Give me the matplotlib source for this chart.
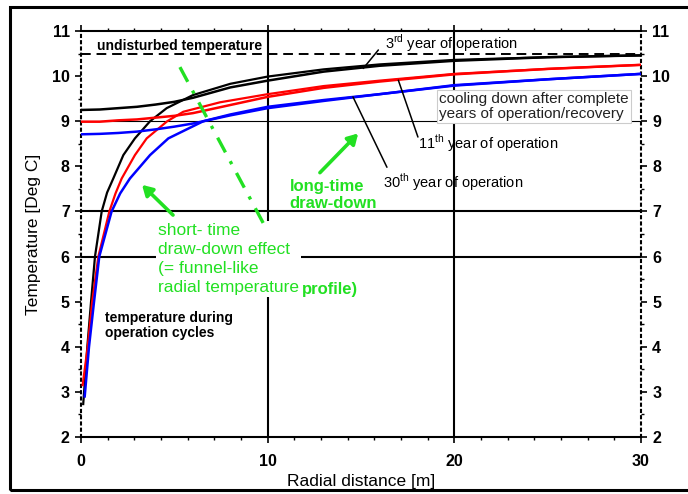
import numpy as np
import matplotlib
matplotlib.use('Agg')
import matplotlib.pyplot as plt
from matplotlib.ticker import AutoMinorLocator
from matplotlib.patches import Rectangle

plt.rcParams['font.family'] = ['Liberation Sans', 'DejaVu Sans']
plt.rcParams['mathtext.fontset'] = 'custom'
plt.rcParams['mathtext.rm'] = 'Liberation Sans'

# temperature during operation cycles (steep profiles near the borehole)
r_op_3 = [0.12, 0.22, 0.34, 0.54, 0.75, 1.11, 1.4, 1.73, 2.27, 2.89, 3.7, 4.59, 6.0, 8.0, 10, 13, 16, 20, 25, 30]
t_op_3 = [2.73, 3.3, 4.0, 5.0, 6.0, 7.0, 7.42, 7.73, 8.25, 8.62, 9.0, 9.29, 9.58, 9.83, 9.99, 10.15, 10.26, 10.36, 10.42, 10.46]
r_op_11 = [0.09, 0.2, 0.36, 0.6, 0.93, 1.52, 1.85, 2.18, 2.89, 3.52, 4.62, 5.48, 7.45, 10, 13, 16, 20, 25, 30]
t_op_11 = [3.15, 3.5, 4.0, 5.0, 6.0, 7.0, 7.4, 7.73, 8.25, 8.62, 9.0, 9.21, 9.42, 9.6, 9.78, 9.9, 10.05, 10.16, 10.25]
r_op_30 = [0.2, 0.43, 0.7, 0.98, 1.64, 2.1, 2.62, 3.7, 4.68, 6.55, 8, 10, 13, 16, 20, 25, 30]
t_op_30 = [2.9, 4.0, 5.0, 6.0, 7.0, 7.4, 7.73, 8.25, 8.62, 9.0, 9.15, 9.32, 9.47, 9.6, 9.8, 9.93, 10.05]

# cooling down after complete years of operation / recovery
r_rec = [0, 1, 2, 3, 4, 5, 6, 8, 10, 13, 16, 20, 25, 30]
t_rec_3 = [9.25, 9.26, 9.29, 9.32, 9.37, 9.43, 9.52, 9.75, 9.9, 10.1, 10.23, 10.34, 10.42, 10.46]
t_rec_11 = [8.99, 8.99, 9.02, 9.04, 9.08, 9.12, 9.18, 9.36, 9.54, 9.74, 9.88, 10.04, 10.16, 10.25]
t_rec_30 = [8.71, 8.72, 8.74, 8.77, 8.82, 8.88, 8.95, 9.13, 9.29, 9.45, 9.6, 9.79, 9.93, 10.05]

t_undisturbed = 10.5
y_ticks = [2, 3, 4, 5, 6, 7, 8, 9, 10, 11]
x_ticks = [0, 10, 20, 30]

green = '#22e022'

fig = plt.figure(figsize=(6.88, 4.94), dpi=100)
ax = fig.add_axes([0.1177, 0.1154, 0.8140, 0.8218])

# frame around the whole figure
fig.patches.append(Rectangle((0.0145, 0.008), 1.1, 0.978, transform=fig.transFigure,
                             fill=False, edgecolor='k', lw=2.2))

# grid lines
for yv in [6, 7]:
    ax.axhline(yv, color='k', lw=1.5, zorder=0.5)
ax.axhline(9, color='k', lw=0.8, zorder=0.5)
for xv in [10, 20]:
    ax.axvline(xv, color='k', lw=1.5, zorder=0.5)
ax.axhline(t_undisturbed, color='k', lw=1.4, ls=(0, (5, 3)), zorder=1)

# curves
ax.plot(r_op_3, t_op_3, color='k', lw=1.6, zorder=3)
ax.plot(r_op_11, t_op_11, color='#ff0000', lw=1.6, zorder=3)
ax.plot(r_op_30, t_op_30, color='#0000ff', lw=1.8, zorder=3)
ax.plot(r_rec, t_rec_3, color='k', lw=1.8, zorder=3)
ax.plot(r_rec, t_rec_11, color='#ff0000', lw=1.8, zorder=3)
ax.plot(r_rec, t_rec_30, color='#0000ff', lw=1.8, zorder=3)

ax.set_xlim(0, 30)
ax.set_ylim(2, 11)
ax.xaxis.set_minor_locator(AutoMinorLocator(7))
ax.yaxis.set_minor_locator(AutoMinorLocator(2))
ax.set_xticks(x_ticks)
ax.set_yticks(y_ticks)

ax.tick_params(axis='y', which='both', direction='out', left=True, right=True,
               labelleft=True, labelright=True, labelsize=11.5, pad=4)
ax.tick_params(axis='x', which='both', direction='out', top=True, bottom=True,
               labeltop=False, labelsize=11.5, pad=8)
ax.tick_params(which='major', length=4, width=1.2)
ax.tick_params(which='minor', length=2.5, width=1)
for lab in ax.get_xticklabels() + ax.get_yticklabels():
    lab.set_fontweight('bold')
for t in ax.yaxis.get_major_ticks():
    t.label2.set_fontweight('bold')

for s in ['top', 'bottom']:
    ax.spines[s].set_linewidth(1.5)
for s in ['left', 'right']:
    ax.spines[s].set_linewidth(1.5)
    ax.spines[s].set_linestyle((0, (1, 2)))

ax.set_xlabel('Radial distance [m]', fontsize=12.5, labelpad=4)
ax.set_ylabel('Temperature [Deg C]', fontsize=12.5, labelpad=8)

# texts
ax.text(0.86, 10.66, 'undisturbed temperature', fontsize=10, fontweight='bold',
        va='center', ha='left', zorder=4)
ax.text(1.29, 4.47, 'temperature during\noperation cycles', fontsize=10,
        fontweight='bold', va='center', ha='left', linespacing=1.15, zorder=4)
ax.text(19.2, 9.33, 'cooling down after complete\nyears of operation/recovery',
        fontsize=11, color='#222222', va='center', ha='left', linespacing=1.1,
        bbox=dict(facecolor='white', edgecolor='#cccccc', lw=0.8, pad=1.5), zorder=4)

ax.text(16.28, 10.73, '3$^{\\mathrm{rd}}$ year of operation', fontsize=10.5,
        va='center', ha='left', zorder=4)
ax.text(18.05, 8.52, '11$^{\\mathrm{th}}$ year of operation', fontsize=10.5,
        va='center', ha='left', zorder=4)
ax.text(16.18, 7.65, '30$^{\\mathrm{th}}$ year of operation', fontsize=10.5,
        va='center', ha='left', zorder=4)
ax.annotate('', xy=(15.12, 10.17), xytext=(15.93, 10.58),
            arrowprops=dict(arrowstyle='-', color='k', lw=1.1, shrinkA=0, shrinkB=0))
ax.annotate('', xy=(17.0, 9.91), xytext=(18.05, 8.65),
            arrowprops=dict(arrowstyle='-', color='k', lw=1.1, shrinkA=0, shrinkB=0))
ax.annotate('', xy=(14.57, 9.54), xytext=(16.39, 7.98),
            arrowprops=dict(arrowstyle='-', color='k', lw=1.1, shrinkA=0, shrinkB=0))

# green annotations
ax.text(4.12, 6.74, 'short- time\ndraw-down effect\n(= funnel-like\nradial temperature',
        fontsize=12.5, color=green, va='top', ha='left', linespacing=1.33,
        bbox=dict(facecolor='white', edgecolor='none', pad=1.5), zorder=2)
ax.text(11.84, 5.26, 'profile)', fontsize=12, fontweight='bold', color=green,
        va='center', ha='left', zorder=4)
ax.text(11.19, 7.37, 'long-time\ndraw-down', fontsize=12, fontweight='bold', color=green,
        va='center', ha='left', linespacing=1.2, zorder=4)

ax.plot([5.3, 9.96], [10.2, 6.59], color=green, lw=2.4, ls=(0, (5, 3, 1, 3)), zorder=3)
ax.annotate('', xy=(3.27, 7.59), xytext=(4.93, 6.92),
            arrowprops=dict(arrowstyle='-|>,head_length=0.6,head_width=0.35',
                            color=green, lw=2.6, shrinkA=0, shrinkB=0), zorder=4)
ax.annotate('', xy=(14.85, 8.73), xytext=(12.8, 7.86),
            arrowprops=dict(arrowstyle='-|>,head_length=0.6,head_width=0.35',
                            color=green, lw=2.6, shrinkA=0, shrinkB=0), zorder=4)

fig.savefig('out.png', dpi=100)
